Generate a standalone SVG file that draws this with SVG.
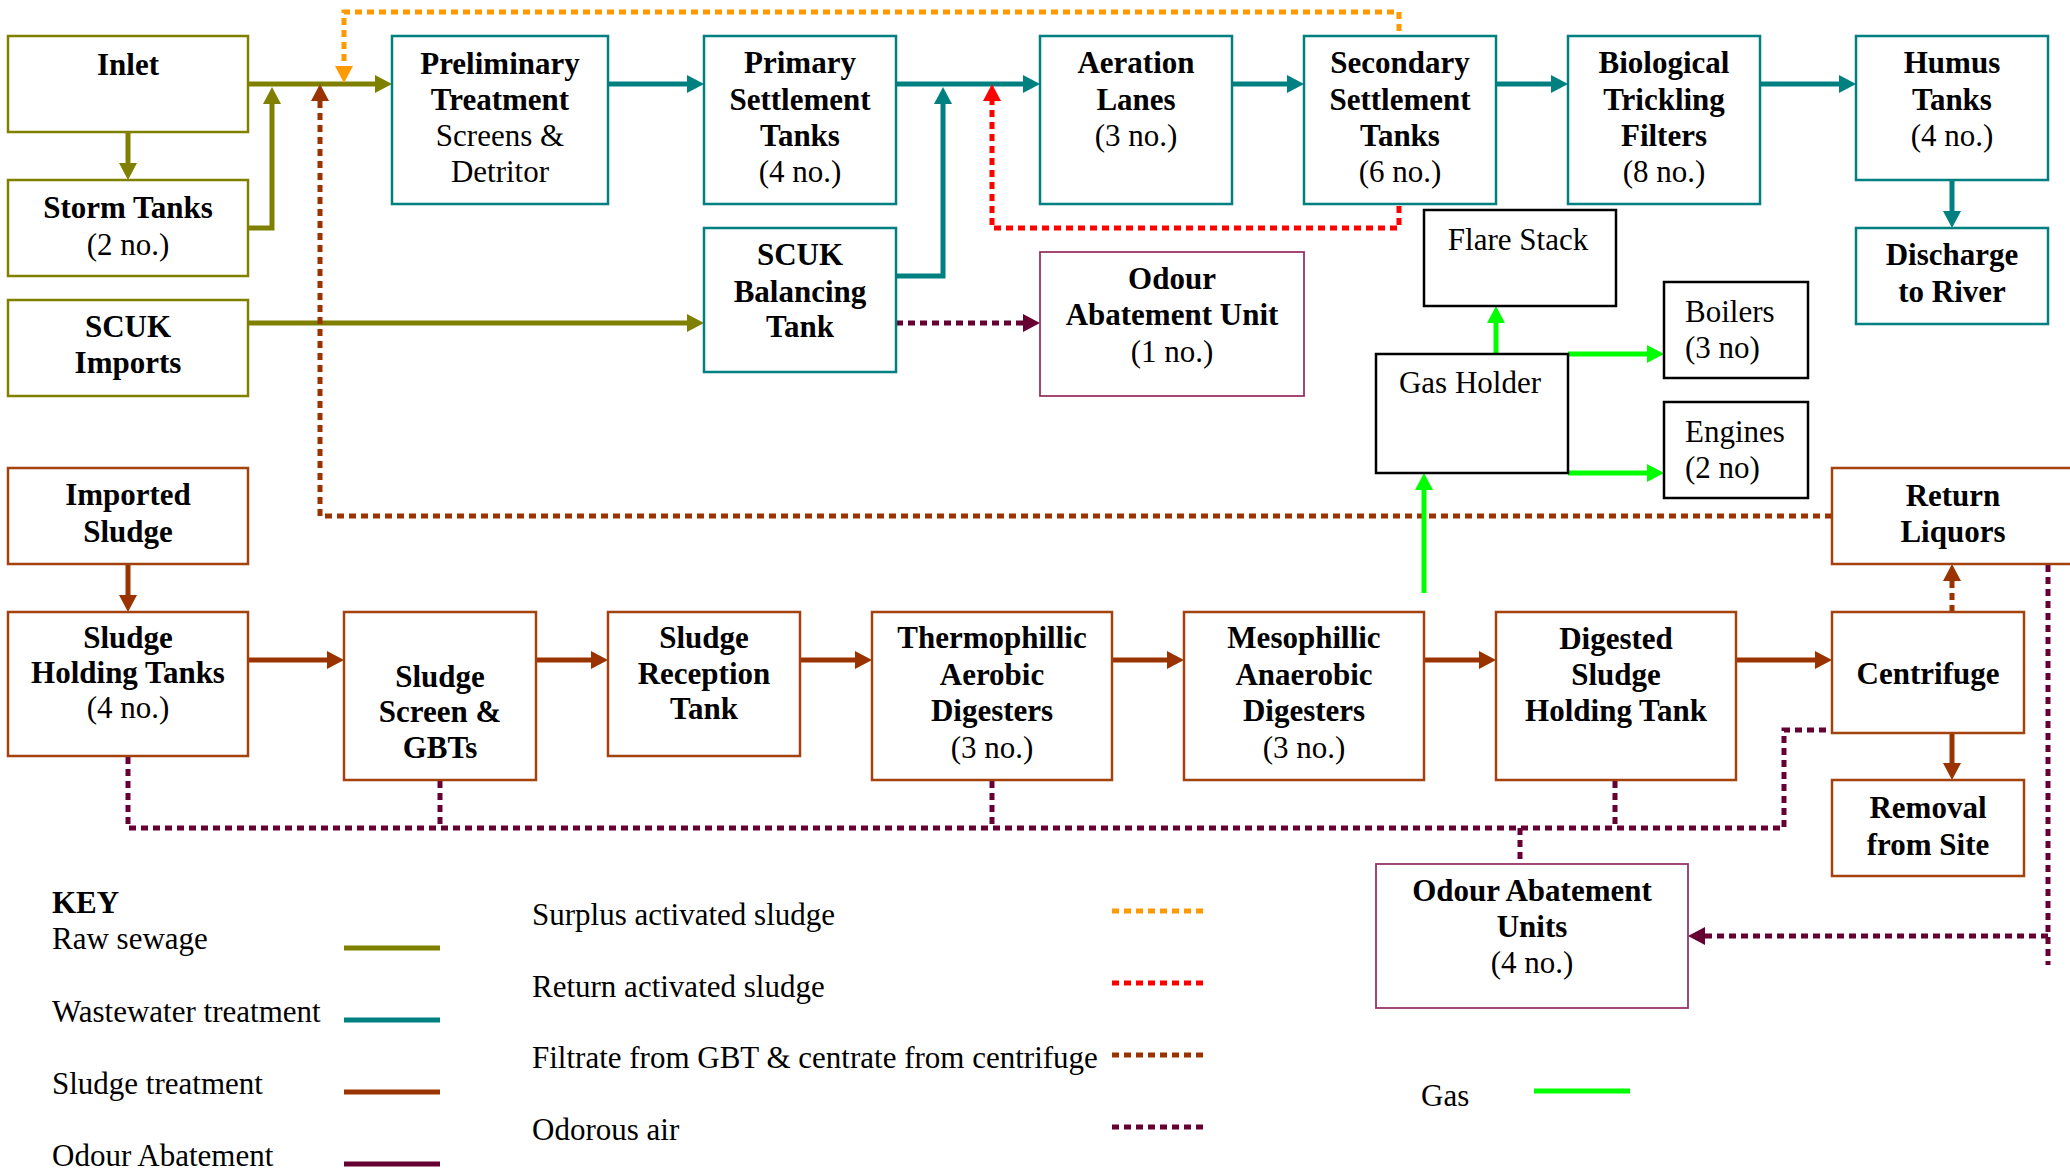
<svg xmlns="http://www.w3.org/2000/svg" width="2070" height="1171" viewBox="0 0 2070 1171">
<defs>
<style>
text{font-family:"Liberation Serif","Times New Roman",serif;fill:#000;text-anchor:middle}
.b{font-weight:bold;font-size:31px}
.r{font-size:31px}
.l{text-anchor:start}
rect{fill:#fff}
.ol{stroke:#808000;stroke-width:2.5}
.te{stroke:#008080;stroke-width:2.5}
.br{stroke:#A3420F;stroke-width:2.5}
.mv{stroke:#993366;stroke-width:1.8}
.bk{stroke:#000;stroke-width:2.5}
.c{fill:none;stroke-width:5;stroke-linejoin:miter}
.d{stroke-dasharray:7 5}
.cO{stroke:#808000}.cT{stroke:#008080}.cB{stroke:#993300}.cP{stroke:#660033}
.cY{stroke:#FF9900}.cR{stroke:#FF0000}.cG{stroke:#00FF00}
</style>
<marker id="aO" markerUnits="userSpaceOnUse" markerWidth="18" markerHeight="18" refX="0" refY="9" orient="auto"><path d="M0,0L17,9L0,18z" fill="#808000"/></marker>
<marker id="aT" markerUnits="userSpaceOnUse" markerWidth="18" markerHeight="18" refX="0" refY="9" orient="auto"><path d="M0,0L17,9L0,18z" fill="#008080"/></marker>
<marker id="aB" markerUnits="userSpaceOnUse" markerWidth="18" markerHeight="18" refX="0" refY="9" orient="auto"><path d="M0,0L17,9L0,18z" fill="#993300"/></marker>
<marker id="aP" markerUnits="userSpaceOnUse" markerWidth="18" markerHeight="18" refX="0" refY="9" orient="auto"><path d="M0,0L17,9L0,18z" fill="#660033"/></marker>
<marker id="aY" markerUnits="userSpaceOnUse" markerWidth="18" markerHeight="18" refX="0" refY="9" orient="auto"><path d="M0,0L17,9L0,18z" fill="#FF9900"/></marker>
<marker id="aR" markerUnits="userSpaceOnUse" markerWidth="18" markerHeight="18" refX="0" refY="9" orient="auto"><path d="M0,0L17,9L0,18z" fill="#FF0000"/></marker>
<marker id="aG" markerUnits="userSpaceOnUse" markerWidth="18" markerHeight="18" refX="0" refY="9" orient="auto"><path d="M0,0L17,9L0,18z" fill="#00FF00"/></marker>
</defs>
<rect x="0" y="0" width="2070" height="1171" fill="#fff"/>

<g id="connectors">
<path class="c cO" d="M248,84H375" marker-end="url(#aO)"/>
<path class="c cO" d="M128,132V163" marker-end="url(#aO)"/>
<path class="c cO" d="M248,228H272V104" marker-end="url(#aO)"/>
<path class="c cO" d="M248,323H687" marker-end="url(#aO)"/>
<path class="c cT" d="M608,84H687" marker-end="url(#aT)"/>
<path class="c cT" d="M896,84H1023" marker-end="url(#aT)"/>
<path class="c cT" d="M896,276H943V104" marker-end="url(#aT)"/>
<path class="c cT" d="M1232,84H1287" marker-end="url(#aT)"/>
<path class="c cT" d="M1496,84H1551" marker-end="url(#aT)"/>
<path class="c cT" d="M1760,84H1839" marker-end="url(#aT)"/>
<path class="c cT" d="M1952,180V211" marker-end="url(#aT)"/>
<path class="c d cY" d="M1399,31V12H344V66" marker-end="url(#aY)"/>
<path class="c d cR" d="M1399,206V228H992V101" marker-end="url(#aR)"/>
<path class="c d cB" d="M1832,516H320V101" marker-end="url(#aB)"/>
<path class="c d cB" d="M1952,612V581" marker-end="url(#aB)"/>
<path class="c cB" d="M128,564V595" marker-end="url(#aB)"/>
<path class="c cB" d="M248,660H327" marker-end="url(#aB)"/>
<path class="c cB" d="M536,660H591" marker-end="url(#aB)"/>
<path class="c cB" d="M800,660H855" marker-end="url(#aB)"/>
<path class="c cB" d="M1112,660H1167" marker-end="url(#aB)"/>
<path class="c cB" d="M1424,660H1479" marker-end="url(#aB)"/>
<path class="c cB" d="M1736,660H1815" marker-end="url(#aB)"/>
<path class="c cB" d="M1952,733V763" marker-end="url(#aB)"/>
<path class="c d cP" d="M896,323H1023" marker-end="url(#aP)"/>
<path class="c d cP" d="M128,757V828H1784V730H1832"/>
<path class="c d cP" d="M440,733V828"/>
<path class="c d cP" d="M992,781V828"/>
<path class="c d cP" d="M1615,781V828"/>
<path class="c d cP" d="M1520,828V864"/>
<path class="c d cP" d="M2048,565V965"/>
<path class="c d cP" d="M2048,936H1705" marker-end="url(#aP)"/>
<path class="c cG" d="M1496,354V323" marker-end="url(#aG)"/>
<path class="c cG" d="M1568,354H1647" marker-end="url(#aG)"/>
<path class="c cG" d="M1568,473H1647" marker-end="url(#aG)"/>
<path class="c cG" d="M1424,593V490" marker-end="url(#aG)"/>
</g>

<g id="inlet"><rect class="ol" x="8" y="36" width="240" height="96"/><text class="b" x="128" y="75">Inlet</text></g>
<g id="storm-tanks"><rect class="ol" x="8" y="180" width="240" height="96"/><text class="b" x="128" y="218">Storm Tanks</text><text class="r" x="128" y="255">(2 no.)</text></g>
<g id="scuk-imports"><rect class="ol" x="8" y="300" width="240" height="96"/><text class="b" x="128" y="337">SCUK</text><text class="b" x="128" y="373">Imports</text></g>

<g id="preliminary"><rect class="te" x="392" y="36" width="216" height="168"/><text class="b" x="500" y="74">Preliminary</text><text class="b" x="500" y="110">Treatment</text><text class="r" x="500" y="146">Screens &amp;</text><text class="r" x="500" y="182">Detritor</text></g>
<g id="primary"><rect class="te" x="704" y="36" width="192" height="168"/><text class="b" x="800" y="73">Primary</text><text class="b" x="800" y="110">Settlement</text><text class="b" x="800" y="146">Tanks</text><text class="r" x="800" y="182">(4 no.)</text></g>
<g id="balancing"><rect class="te" x="704" y="228" width="192" height="144"/><text class="b" x="800" y="265">SCUK</text><text class="b" x="800" y="302">Balancing</text><text class="b" x="800" y="337">Tank</text></g>
<g id="aeration"><rect class="te" x="1040" y="36" width="192" height="168"/><text class="b" x="1136" y="73">Aeration</text><text class="b" x="1136" y="110">Lanes</text><text class="r" x="1136" y="146">(3 no.)</text></g>
<g id="odour-unit"><rect class="mv" x="1040" y="252" width="264" height="144"/><text class="b" x="1172" y="289">Odour</text><text class="b" x="1172" y="325">Abatement Unit</text><text class="r" x="1172" y="362">(1 no.)</text></g>
<g id="secondary"><rect class="te" x="1304" y="36" width="192" height="168"/><text class="b" x="1400" y="73">Secondary</text><text class="b" x="1400" y="110">Settlement</text><text class="b" x="1400" y="146">Tanks</text><text class="r" x="1400" y="182">(6 no.)</text></g>
<g id="biological"><rect class="te" x="1568" y="36" width="192" height="168"/><text class="b" x="1664" y="73">Biological</text><text class="b" x="1664" y="110">Trickling</text><text class="b" x="1664" y="146">Filters</text><text class="r" x="1664" y="182">(8 no.)</text></g>
<g id="humus"><rect class="te" x="1856" y="36" width="192" height="144"/><text class="b" x="1952" y="73">Humus</text><text class="b" x="1952" y="110">Tanks</text><text class="r" x="1952" y="146">(4 no.)</text></g>
<g id="discharge"><rect class="te" x="1856" y="228" width="192" height="96"/><text class="b" x="1952" y="265">Discharge</text><text class="b" x="1952" y="302">to River</text></g>

<g id="flare-stack"><rect class="bk" x="1424" y="210" width="192" height="96"/><text class="r" x="1518" y="250">Flare Stack</text></g>
<g id="gas-holder"><rect class="bk" x="1376" y="354" width="192" height="119"/><text class="r" x="1470" y="393">Gas Holder</text></g>
<g id="boilers"><rect class="bk" x="1664" y="282" width="144" height="96"/><text class="r l" x="1685" y="322">Boilers</text><text class="r l" x="1685" y="358">(3 no)</text></g>
<g id="engines"><rect class="bk" x="1664" y="402" width="144" height="96"/><text class="r l" x="1685" y="442">Engines</text><text class="r l" x="1685" y="478">(2 no)</text></g>

<g id="return-liquors"><rect class="br" x="1832" y="468" width="244" height="96"/><text class="b" x="1953" y="506">Return</text><text class="b" x="1953" y="542">Liquors</text></g>
<g id="imported-sludge"><rect class="br" x="8" y="468" width="240" height="96"/><text class="b" x="128" y="505">Imported</text><text class="b" x="128" y="542">Sludge</text></g>
<g id="sludge-holding"><rect class="br" x="8" y="612" width="240" height="144"/><text class="b" x="128" y="648">Sludge</text><text class="b" x="128" y="683">Holding Tanks</text><text class="r" x="128" y="718">(4 no.)</text></g>
<g id="sludge-screen"><rect class="br" x="344" y="612" width="192" height="168"/><text class="b" x="440" y="687">Sludge</text><text class="b" x="440" y="722">Screen &amp;</text><text class="b" x="440" y="758">GBTs</text></g>
<g id="sludge-reception"><rect class="br" x="608" y="612" width="192" height="144"/><text class="b" x="704" y="648">Sludge</text><text class="b" x="704" y="684">Reception</text><text class="b" x="704" y="719">Tank</text></g>
<g id="thermophillic"><rect class="br" x="872" y="612" width="240" height="168"/><text class="b" x="992" y="648">Thermophillic</text><text class="b" x="992" y="685">Aerobic</text><text class="b" x="992" y="721">Digesters</text><text class="r" x="992" y="758">(3 no.)</text></g>
<g id="mesophillic"><rect class="br" x="1184" y="612" width="240" height="168"/><text class="b" x="1304" y="648">Mesophillic</text><text class="b" x="1304" y="685">Anaerobic</text><text class="b" x="1304" y="721">Digesters</text><text class="r" x="1304" y="758">(3 no.)</text></g>
<g id="digested"><rect class="br" x="1496" y="612" width="240" height="168"/><text class="b" x="1616" y="649">Digested</text><text class="b" x="1616" y="685">Sludge</text><text class="b" x="1616" y="721">Holding Tank</text></g>
<g id="centrifuge"><rect class="br" x="1832" y="612" width="192" height="121"/><text class="b" x="1928" y="684">Centrifuge</text></g>
<g id="removal"><rect class="br" x="1832" y="780" width="192" height="96"/><text class="b" x="1928" y="818">Removal</text><text class="b" x="1928" y="855">from Site</text></g>
<g id="odour-units"><rect class="mv" x="1376" y="864" width="312" height="144"/><text class="b" x="1532" y="901">Odour Abatement</text><text class="b" x="1532" y="937">Units</text><text class="r" x="1532" y="973">(4 no.)</text></g>

<g id="key">
<text class="b l" x="52" y="913">KEY</text>
<text class="r l" x="52" y="949">Raw sewage</text>
<text class="r l" x="52" y="1022">Wastewater treatment</text>
<text class="r l" x="52" y="1094">Sludge treatment</text>
<text class="r l" x="52" y="1166">Odour Abatement</text>
<path class="c cO" d="M344,948H440"/>
<path class="c cT" d="M344,1020H440"/>
<path class="c cB" d="M344,1092H440"/>
<path class="c cP" d="M344,1164H440"/>
<text class="r l" x="532" y="925">Surplus activated sludge</text>
<text class="r l" x="532" y="997">Return activated sludge</text>
<text class="r l" x="532" y="1068">Filtrate from GBT &amp; centrate from centrifuge</text>
<text class="r l" x="532" y="1140">Odorous air</text>
<path class="c d cY" d="M1112,911H1204"/>
<path class="c d cR" d="M1112,983H1204"/>
<path class="c d cB" d="M1112,1055H1204"/>
<path class="c d cP" d="M1112,1127H1204"/>
<text class="r l" x="1421" y="1106">Gas</text>
<path class="c cG" d="M1534,1091H1630"/>
</g>
</svg>
